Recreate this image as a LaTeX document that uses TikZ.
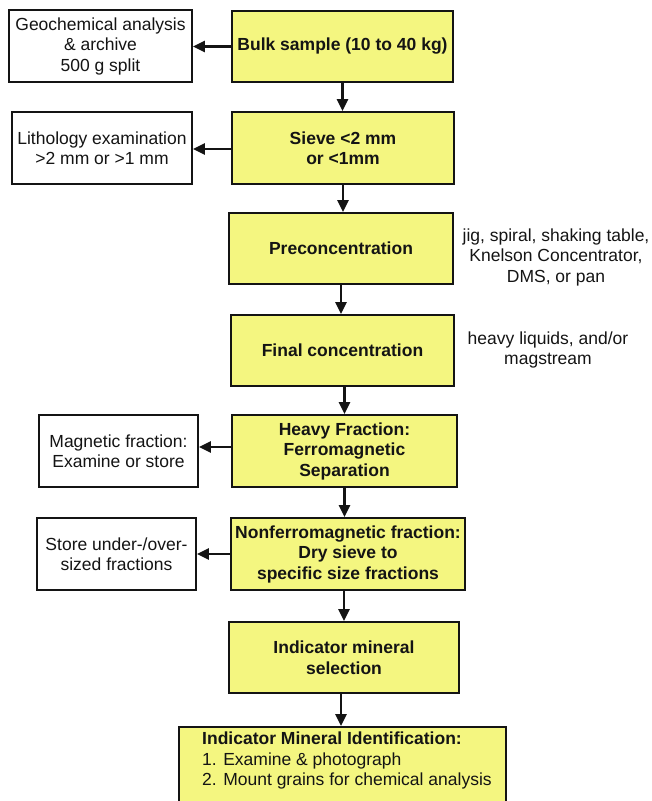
\documentclass[tikz,border=0pt]{standalone}
\usepackage{fontspec}
\setmainfont{Liberation Sans}
\usetikzlibrary{arrows.meta,calc}
\definecolor{boxyellow}{RGB}{244,246,128}
\definecolor{ink}{RGB}{20,20,20}
\begin{document}
\begin{tikzpicture}[x=1pt,y=1pt,
  every node/.style={font=\fontsize{17.5}{20.5}\selectfont, text=ink},
  mainbox/.style={draw=ink, line width=1.8pt, fill=boxyellow, align=center, font=\fontsize{17.5}{20.5}\selectfont\bfseries, inner sep=0pt},
  sidebox/.style={draw=ink, line width=1.8pt, fill=white, align=center, inner sep=0pt},
  note/.style={align=center, inner sep=0pt},
  flow/.style={draw=ink, line width=2.8pt, -{Triangle[length=12pt,width=11pt]}}
]
\useasboundingbox (0,0) rectangle (652,-801);
% main column
\node[mainbox, minimum width=221pt, minimum height=71pt] (bulk) at (342.5,-46.5) {Bulk sample (10 to 40 kg)};
\node[mainbox, minimum width=222pt, minimum height=72pt] (sieve) at (343,-148) {Sieve <2 mm\\or <1mm};
\node[mainbox, minimum width=224pt, minimum height=71pt] (precon) at (341,-248.5) {Preconcentration};
\node[mainbox, minimum width=223pt, minimum height=71pt] (final) at (342.5,-350.5) {Final concentration};
\node[mainbox, minimum width=225pt, minimum height=72pt] (heavy) at (344.5,-451) {Heavy Fraction:\\Ferromagnetic\\Separation};
\node[mainbox, minimum width=234pt, minimum height=72pt] (nonferro) at (348,-554) {Nonferromagnetic fraction:\\Dry sieve to\\specific size fractions};
\node[mainbox, minimum width=230pt, minimum height=71pt] (select) at (344,-657.5) {Indicator mineral\\selection};
\node[mainbox, anchor=north west, minimum width=327pt, minimum height=110pt] (ident) at (178,-726) {};
\node[note, anchor=north west, align=left] (identtext) at (202,-732) {\textbf{Indicator Mineral Identification:}\\1. Examine \& photograph\\2. Mount grains for chemical analysis};
% side boxes
\node[sidebox, minimum width=183pt, minimum height=72pt] (geo) at (100.5,-46) {Geochemical analysis\\\& archive\\500 g split};
\node[sidebox, minimum width=180pt, minimum height=72pt] (litho) at (102,-148) {Lithology examination\\>2 mm or >1 mm};
\node[sidebox, minimum width=159pt, minimum height=72pt] (magnetic) at (118.5,-451) {Magnetic fraction:\\Examine or store};
\node[sidebox, minimum width=159pt, minimum height=72pt] (store) at (116.5,-554) {Store under-/over-\\sized fractions};
% notes
\node[note] (prenote) at (556,-257) {jig, spiral, shaking table,\\Knelson Concentrator,\\DMS, or pan};
\node[note] (finnote) at (548,-350) {heavy liquids, and/or\\magstream};
% vertical arrows
\draw[flow] (bulk.south) -- (bulk.south |- sieve.north);
\draw[flow] (sieve.south) -- (sieve.south |- precon.north);
\draw[flow] (precon.south) -- (precon.south |- final.north);
\draw[flow] ([xshift=2pt]final.south) -- ([xshift=2pt]final.south |- heavy.north);
\draw[flow] (heavy.south) -- (heavy.south |- nonferro.north);
\draw[flow] ([xshift=-4pt]nonferro.south) -- ([xshift=-4pt]nonferro.south |- select.north);
\draw[flow] ([xshift=-3pt]select.south) -- ([xshift=-3pt]select.south |- ident.north);
% side arrows
\draw[flow] (bulk.west) -- (bulk.west -| geo.east);
\draw[flow] ([yshift=-1pt]sieve.west) -- ([yshift=-1pt]sieve.west -| litho.east);
\draw[flow] ([yshift=4pt]heavy.west) -- ([yshift=4pt]heavy.west -| magnetic.east);
\draw[flow] (nonferro.west) -- (nonferro.west -| store.east);
\end{tikzpicture}
\end{document}
